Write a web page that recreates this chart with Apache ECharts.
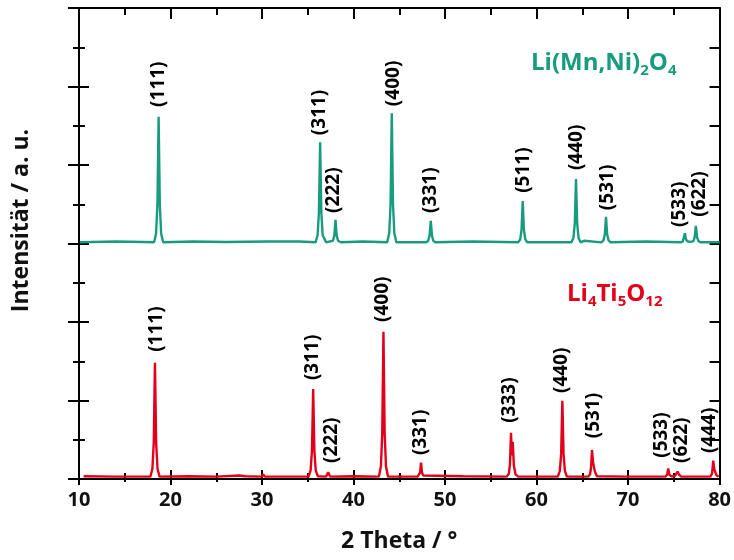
<!DOCTYPE html>
<html>
<head>
<meta charset="utf-8">
<script src="https://cdn.jsdelivr.net/npm/echarts@6/dist/echarts.min.js"></script>
<style>html,body{margin:0;padding:0;background:#fff}#c{width:734px;height:560px}</style>
</head>
<body>
<div id="c"></div>
<script>
// X tick values (2 Theta / °)
const xTicks = [10, 20, 30, 40, 50, 60, 70, 80];

// Li(Mn,Ni)2O4 pattern (offset trace, a.u.): [2theta, intensity]
const lmnoPattern = [
  [10.1,6.03],[14.0,6.05],[17.0,6.04],
  [18.20,6.03],[18.42,6.25],[18.57,6.99],[18.70,9.23],[18.83,6.99],[18.98,6.25],[19.20,6.03],
  [22.5,6.05],[26.0,6.04],[30.7,6.05],[30.8,6.07],[30.9,6.03],[34.0,6.05],
  [35.85,6.03],[36.07,6.21],[36.22,6.80],[36.35,8.58],[36.48,6.80],[36.63,6.21],[37.0,6.03],
  [37.75,6.07],[37.90,6.20],[38.03,6.60],[38.16,6.20],[38.31,6.07],[38.6,6.03],
  [41.0,6.05],
  [43.68,6.03],[43.90,6.26],[44.05,7.02],[44.18,9.32],[44.31,7.02],[44.46,6.26],[44.68,6.03],
  [47.94,6.03],[48.16,6.07],[48.31,6.20],[48.44,6.58],[48.57,6.20],[48.72,6.07],[48.94,6.03],
  [53.0,6.05],
  [57.99,6.03],[58.21,6.10],[58.36,6.35],[58.49,7.08],[58.62,6.35],[58.77,6.10],[58.99,6.03],
  [63.81,6.03],[64.03,6.14],[64.18,6.51],[64.31,7.64],[64.44,6.51],[64.59,6.14],[64.81,6.03],
  [65.2,6.07],[65.4,6.04],
  [67.09,6.03],[67.31,6.08],[67.46,6.23],[67.59,6.68],[67.72,6.23],[67.87,6.08],[68.09,6.03],
  [72.0,6.05],
  [75.75,6.03],[75.98,6.05],[76.10,6.10],[76.21,6.26],[76.33,6.10],[76.55,6.05],
  [76.85,6.04],[77.15,6.06],[77.28,6.16],[77.41,6.45],[77.54,6.16],[77.69,6.06],[77.95,6.03],
  [80.0,6.03]
];

// Li4Ti5O12 pattern (a.u.): [2theta, intensity]
const ltoPattern = [
  [10.5,0.07],[14.0,0.06],[17.0,0.06],
  [17.80,0.06],[18.02,0.26],[18.17,0.93],[18.30,2.96],[18.43,0.93],[18.58,0.26],[18.80,0.06],
  [22.0,0.07],[25.0,0.06],[27.5,0.09],[28.2,0.07],
  [29.95,0.06],[30.13,0.12],[30.3,0.06],
  [35.09,0.06],[35.31,0.22],[35.46,0.73],[35.59,2.29],[35.72,0.73],[35.87,0.22],[36.1,0.07],
  [37.0,0.06],[37.23,0.17],[37.45,0.06],
  [40.0,0.07],
  [42.77,0.06],[42.99,0.32],[43.14,1.17],[43.27,3.75],[43.40,1.17],[43.55,0.32],[43.77,0.06],
  [47.0,0.06],[47.18,0.09],[47.28,0.17],[47.38,0.42],[47.48,0.17],[47.6,0.09],[47.8,0.06],
  [52.0,0.07],
  [56.75,0.06],[56.98,0.14],[57.10,0.40],[57.21,1.18],[57.30,0.60],[57.40,0.95],[57.52,0.35],[57.70,0.12],[58.0,0.06],
  [62.32,0.06],[62.54,0.20],[62.69,0.64],[62.82,1.99],[62.95,0.64],[63.10,0.20],[63.32,0.06],
  [65.65,0.06],[65.85,0.12],[65.96,0.30],[66.06,0.74],[66.16,0.45],[66.25,0.50],[66.36,0.20],[66.6,0.07],
  [70.0,0.06],
  [74.1,0.06],[74.28,0.12],[74.39,0.27],[74.52,0.10],[74.75,0.07],
  [75.1,0.07],[75.3,0.12],[75.41,0.19],[75.55,0.12],[75.8,0.06],
  [79.0,0.06],[79.18,0.14],[79.31,0.47],[79.42,0.25],[79.52,0.30],[79.65,0.10],[79.9,0.06]
];

// Reflection labels: hkl, label anchor 2theta, label anchor intensity
const lmnoHkl   = ['(111)','(311)','(222)','(400)','(331)','(511)','(440)','(531)','(533)','(622)'];
const lmnoLblX  = [18.74, 36.32, 37.85, 44.40, 48.44, 58.56, 64.38, 67.73, 75.63, 77.82];
const lmnoLblY  = [9.48, 8.76, 6.78, 9.50, 6.78, 7.29, 7.87, 6.85, 6.42, 6.68];

const ltoHkl  = ['(111)','(311)','(222)','(400)','(331)','(333)','(440)','(531)','(533)','(622)','(444)'];
const ltoLblX = [18.52, 35.55, 37.63, 43.20, 47.35, 57.07, 62.75, 66.21, 73.67, 75.85, 78.91];
const ltoLblY = [3.24, 2.52, 0.41, 4.00, 0.61, 1.43, 2.19, 1.04, 0.54, 0.41, 0.66];

const GREEN = '#179c7d';
const RED = '#e2001a';
const FONT = 'Open Sans';

const chart = echarts.init(document.getElementById('c'), null, {renderer: 'canvas'});

const grid = {left: 79, right: 14, top: 8, bottom: 81};
const axisLine = {show: true, onZero: false, lineStyle: {color: '#000', width: 2}};
const xBase = {type: 'value', min: xTicks[0], max: xTicks[xTicks.length - 1], interval: 10, splitLine: {show: false}};
const yBase = {type: 'value', min: 0, max: 12, interval: 2, splitLine: {show: false}, axisLabel: {show: false}};

function labelSeries(hkl, xs, ys) {
  return {
    type: 'scatter', symbolSize: 0, silent: true, z: 5,
    itemStyle: {opacity: 1},
    data: hkl.map((h, i) => ({name: h, value: [xs[i], ys[i]]})),
    label: {
      show: true, position: 'inside', rotate: 90, align: 'left', verticalAlign: 'middle', opacity: 1,
      formatter: p => p.name, color: '#000', fontFamily: FONT, fontWeight: 'bold', fontSize: 19
    }
  };
}

chart.setOption({
  animation: false,
  backgroundColor: '#fff',
  grid: grid,
  xAxis: [
    Object.assign({}, xBase, {
      position: 'bottom', axisLine: axisLine,
      axisTick: {show: true, inside: false, length: 6, lineStyle: {color: '#000', width: 2}},
      minorTick: {show: true, splitNumber: 2, length: 3, lineStyle: {color: '#000', width: 2}},
      axisLabel: {show: true, color: '#111', fontFamily: FONT, fontWeight: 'bold', fontSize: 20, margin: 11},
      name: '2 Theta / °', nameLocation: 'middle', nameGap: 51,
      nameTextStyle: {color: '#111', fontFamily: FONT, fontWeight: 'bold', fontSize: 23}
    }),
    Object.assign({}, xBase, {
      position: 'bottom', axisLine: {show: false},
      axisTick: {show: true, inside: true, length: 9, lineStyle: {color: '#000', width: 2}},
      minorTick: {show: true, splitNumber: 2, length: 6, lineStyle: {color: '#000', width: 2}},
      axisLabel: {show: false}
    }),
    Object.assign({}, xBase, {
      position: 'top', axisLine: axisLine,
      axisTick: {show: true, inside: true, length: 11, lineStyle: {color: '#000', width: 2}},
      minorTick: {show: true, splitNumber: 2, length: 7, lineStyle: {color: '#000', width: 2}},
      axisLabel: {show: false}
    })
  ],
  yAxis: [
    Object.assign({}, yBase, {
      position: 'left', axisLine: axisLine,
      axisTick: {show: true, inside: false, length: 11, lineStyle: {color: '#000', width: 2}},
      minorTick: {show: true, splitNumber: 2, length: 6, lineStyle: {color: '#000', width: 2}},
      name: 'Intensität / a. u.', nameLocation: 'middle', nameGap: 46,
      nameTextStyle: {color: '#111', fontFamily: FONT, fontWeight: 'bold', fontSize: 23, padding: [0, 0, 0, 46]}
    }),
    Object.assign({}, yBase, {
      position: 'left', axisLine: {show: false},
      axisTick: {show: true, inside: true, length: 10, lineStyle: {color: '#000', width: 2}},
      minorTick: {show: true, splitNumber: 2, length: 6, lineStyle: {color: '#000', width: 2}}
    }),
    Object.assign({}, yBase, {
      position: 'right', axisLine: axisLine,
      axisTick: {show: true, inside: true, length: 10, lineStyle: {color: '#000', width: 2}},
      minorTick: {show: true, splitNumber: 2, length: 10, lineStyle: {color: '#000', width: 2}}
    })
  ],
  series: [
    {type: 'line', name: 'Li(Mn,Ni)2O4', data: lmnoPattern, showSymbol: false, smooth: false,
     lineStyle: {color: GREEN, width: 2.4}, itemStyle: {color: GREEN}, z: 3},
    {type: 'line', name: 'Li4Ti5O12', data: ltoPattern, showSymbol: false, smooth: false,
     lineStyle: {color: RED, width: 2.4}, itemStyle: {color: RED}, z: 3},
    labelSeries(lmnoHkl, lmnoLblX, lmnoLblY),
    labelSeries(ltoHkl, ltoLblX, ltoLblY)
  ],
  graphic: [
    {type: 'text', left: 531, top: 51, style: {
      text: '{m|Li(Mn,Ni)}{s|2}{m|O}{s|4}',
      rich: {
        m: {fontFamily: FONT, fontWeight: 'bold', fontSize: 24, lineHeight: 30, fill: GREEN, verticalAlign: 'middle'},
        s: {fontFamily: FONT, fontWeight: 'bold', fontSize: 15, lineHeight: 15, fill: GREEN, verticalAlign: 'bottom'}
      }
    }},
    {type: 'text', left: 567, top: 282, style: {
      text: '{m|Li}{s|4}{m|Ti}{s|5}{m|O}{s|12}',
      rich: {
        m: {fontFamily: FONT, fontWeight: 'bold', fontSize: 24, lineHeight: 30, fill: RED, verticalAlign: 'middle'},
        s: {fontFamily: FONT, fontWeight: 'bold', fontSize: 15, lineHeight: 15, fill: RED, verticalAlign: 'bottom'}
      }
    }}
  ]
});
</script>
</body>
</html>
